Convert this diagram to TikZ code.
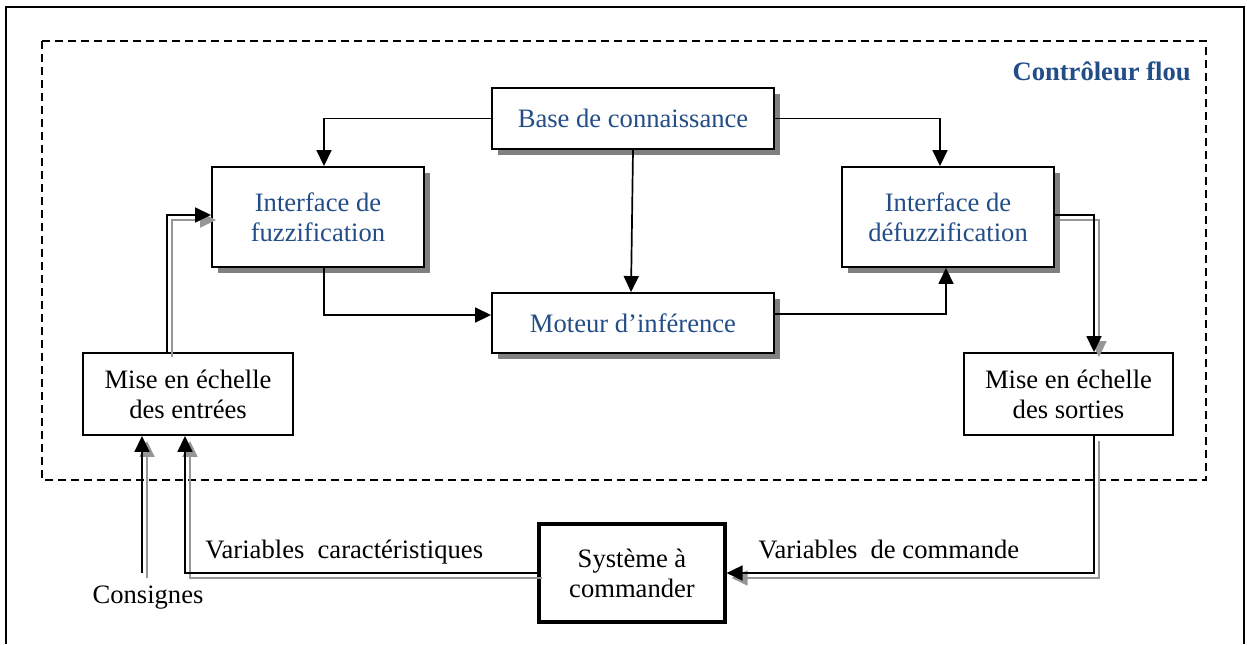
\documentclass[tikz,border=0pt]{standalone}
\usepackage{fontspec}
\setmainfont{Liberation Serif}
\usetikzlibrary{arrows.meta,shadows}
\definecolor{ctlblue}{RGB}{34,77,135}
\definecolor{ghostgray}{RGB}{150,150,150}
\definecolor{shadegray}{RGB}{128,128,128}
\begin{document}
\begin{tikzpicture}[x=0.5pt,y=-0.5pt,
  font=\fontsize{13.3pt}{15pt}\selectfont,
  box/.style={draw,line width=0.95pt,inner sep=0pt,align=center},
  shbox/.style={box,fill=white,
    drop shadow={shadow xshift=2.75pt,shadow yshift=-2.75pt,fill=shadegray,opacity=1}},
  bluetext/.style={text=ctlblue},
  lbl/.style={inner sep=0pt},
  conn/.style={line width=0.85pt,-{Triangle[length=8pt,width=7.5pt]}},
  ghost/.style={conn,draw=ghostgray,
    transform canvas={xshift=2.5pt,yshift=-2.5pt}}]
\useasboundingbox (0,0) rectangle (1247,644);

% outer frame (open at the bottom)
\draw[line width=1pt] (6,644) -- (6,7) -- (1244,7) -- (1244,644);

% dashed border of the controller
\draw[line width=0.75pt,dash pattern=on 4pt off 2.5pt] (42,41) rectangle (1206,480);
\node[lbl,anchor=base east,bluetext,font=\fontsize{13.3pt}{15pt}\selectfont\bfseries] (title) at (1191,80) {Contrôleur flou};

% blocks
\node[shbox,bluetext,minimum width=141pt,minimum height=30.5pt] (base) at (633,118.5) {Base de connaissance};
\node[shbox,bluetext,minimum width=141pt,minimum height=30pt] (moteur) at (633,323) {Moteur d’inférence};
\node[shbox,bluetext,minimum width=106pt,minimum height=50pt] (fuzz) at (318,217) {Interface de\\fuzzification};
\node[shbox,bluetext,minimum width=106pt,minimum height=50pt] (defuzz) at (948,217) {Interface de\\défuzzification};
\node[box,minimum width=105pt,minimum height=41pt] (mee) at (188,394) {Mise en échelle\\des entrées};
\node[box,minimum width=104.5pt,minimum height=41pt] (mes) at (1068.5,394) {Mise en échelle\\des sorties};
\node[box,line width=1.6pt,minimum width=93pt,minimum height=49pt] (sys) at (632,573) {Système à\\commander};

% labels
\node[lbl,anchor=base west] (lcar) at (205,558) {Variables\ \ caractéristiques};
\node[lbl,anchor=base west] (lcom) at (758,558) {Variables\ \ de commande};
\node[lbl] (lcons) at (148,598) {Consignes};
\coordinate (c0) at (142,573);

% single connectors inside the controller
\draw[conn] (base.west) -| ([xshift=3pt]fuzz.north);
\draw[conn] (base.east) -| ([xshift=-4pt]defuzz.north);
\draw[conn] (base.south) -- ([xshift=-1pt]moteur.north);
\draw[conn] ([xshift=3pt]fuzz.south) |- ([yshift=4pt]moteur.west);
\draw[conn] ([yshift=4.5pt]moteur.east) -| ([xshift=-1pt]defuzz.south);

% shadowed signal lines
\draw[ghost] ([xshift=-10.5pt]mee.north) |- ([yshift=1pt]fuzz.west);
\draw[ghost] ([yshift=1pt]defuzz.east) -| ([xshift=12.75pt]mes.north);
\draw[ghost] ([xshift=12.75pt]mes.south) |- (sys.east);
\draw[ghost] (sys.west) -| ([xshift=-1.5pt]mee.south);
\draw[ghost] (c0) -- (c0 |- mee.south);

\draw[conn] ([xshift=-10.5pt]mee.north) |- ([yshift=1pt]fuzz.west);
\draw[conn] ([yshift=1pt]defuzz.east) -| ([xshift=12.75pt]mes.north);
\draw[conn] ([xshift=12.75pt]mes.south) |- (sys.east);
\draw[conn] (sys.west) -| ([xshift=-1.5pt]mee.south);
\draw[conn] (c0) -- (c0 |- mee.south);
\end{tikzpicture}
\end{document}
